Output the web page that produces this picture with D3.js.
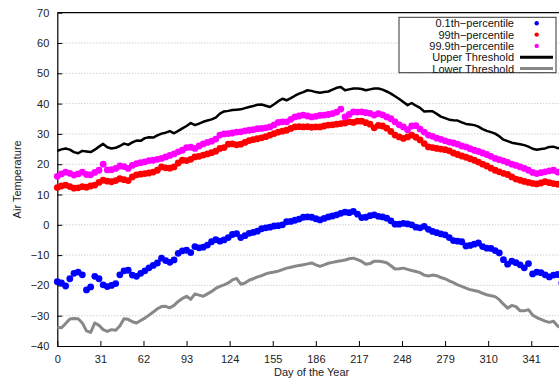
<!DOCTYPE html>
<html>
<head>
<meta charset="utf-8">
<script src="https://cdn.jsdelivr.net/npm/d3@7"></script>
<style>
  body { margin: 0; background: #fff; }
  svg { font-family: "Liberation Sans", Arial, sans-serif; }
</style>
</head>
<body>
<svg></svg>
<script>
let width = 559;
let height = 381;

// day of year, sampled every 3 days
const days = d3.range(0, 366, 3);

const xTicks = [0, 31, 62, 93, 124, 155, 186, 217, 248, 279, 310, 341];
const yTicks = [-40, -30, -20, -10, 0, 10, 20, 30, 40, 50, 60, 70];

const p001 = [
  -18.8, -19.2, -20.2, -17.8, -16.0, -15.6, -16.5, -21.5, -20.5, -17.0,
  -17.8, -19.8, -20.4, -20.0, -19.4, -16.5, -15.2, -15.0, -16.6, -17.0,
  -16.0, -15.2, -14.2, -13.4, -12.6, -11.0, -11.8, -12.4, -11.6, -9.4,
  -8.6, -8.4, -9.2, -7.2, -7.6, -7.4, -6.7, -5.6, -4.9, -5.4,
  -5.0, -4.2, -3.2, -2.9, -4.2, -3.6, -2.8, -2.5, -2.1, -1.3,
  -1.0, -0.8, -0.4, -0.3, 0.0, 1.0, 1.1, 1.5, 1.9, 2.5,
  2.6, 2.5, 2.0, 1.6, 2.1, 2.6, 2.9, 3.3, 3.8, 4.2,
  4.0, 4.4, 3.5, 2.4, 2.5, 3.0, 3.3, 2.8, 2.6, 2.2,
  1.3, 0.2, 0.2, 0.5, 0.3, 0.0, -0.8, -1.0, -0.5, -1.5,
  -2.2, -2.6, -3.0, -3.3, -4.2, -5.2, -5.4, -5.6, -7.0, -6.8,
  -6.4, -6.0, -7.2, -7.7, -7.8, -8.5, -9.3, -11.5, -13.0, -12.0,
  -12.5, -13.2, -14.2, -12.8, -16.2, -15.6, -15.8, -16.5, -17.2, -16.6,
  -16.4, -19.2
];

const p99 = [
  12.3, 12.8, 13.1, 12.6, 12.1, 12.2, 12.6, 12.4, 12.8, 13.1,
  14.0, 14.7, 14.4, 14.2, 14.6, 15.2, 14.9, 14.6, 15.8, 16.5,
  16.7, 16.9, 17.1, 17.4, 18.0, 19.1, 18.8, 18.7, 19.1, 20.4,
  21.3, 21.2, 21.6, 22.4, 22.6, 23.0, 23.4, 23.8, 24.3, 25.2,
  25.5, 26.6, 26.7, 26.4, 26.6, 27.2, 27.8, 28.1, 28.4, 28.7,
  29.1, 29.6, 30.1, 30.6, 30.9, 31.2, 31.8, 32.3, 32.4, 32.3,
  32.4, 32.2, 32.3, 32.3, 32.6, 32.9, 33.0, 33.2, 33.4, 33.6,
  34.0, 33.8, 34.2, 34.2, 33.7, 33.2, 32.0, 32.8, 32.6, 31.9,
  30.8, 29.6, 29.0, 28.5, 29.0, 29.6, 28.9, 28.0, 26.8, 25.7,
  25.5, 25.2, 25.0, 24.8, 24.4, 23.7, 23.2, 22.7, 22.3, 21.8,
  21.3, 20.7, 20.0, 19.4, 18.7, 18.0, 17.5, 17.0, 16.6, 15.8,
  15.1, 14.7, 14.3, 14.0, 13.7, 13.5, 13.8, 14.2, 13.9, 13.6,
  13.4, 13.1
];

const p999 = [
  16.0, 16.8, 17.4, 17.0, 16.4, 16.8, 17.4, 16.6, 16.5, 17.3,
  18.0, 20.0, 18.1, 18.2, 18.6, 19.4, 19.2, 18.6, 19.6, 20.2,
  20.5, 20.8, 21.2, 21.3, 21.6, 21.9, 22.4, 22.9, 23.4, 24.1,
  24.6, 25.5, 25.6, 25.2, 26.0, 26.7, 27.2, 27.6, 28.3, 29.6,
  30.0, 30.1, 30.3, 30.6, 30.7, 31.0, 31.2, 31.4, 31.7, 31.8,
  32.0, 32.3, 33.0, 33.8, 34.0, 34.0, 34.8, 35.6, 35.9, 36.2,
  35.9, 35.6, 35.8, 36.1, 36.2, 36.4, 36.7, 37.2, 38.2, 35.6,
  36.4, 37.3, 37.2, 37.3, 37.0, 36.8, 36.2, 36.7, 36.3, 35.6,
  35.0, 34.0, 33.0, 32.3, 31.4, 32.6, 32.7, 31.6, 30.6, 29.6,
  29.2, 28.6, 28.2, 27.7, 27.3, 27.0, 26.6, 26.0, 25.7, 25.1,
  24.6, 24.2, 23.7, 23.2, 22.6, 21.9, 21.5, 21.1, 20.6, 20.0,
  19.6, 19.1, 18.6, 18.0, 17.3, 16.9, 17.2, 17.5, 17.8, 18.0,
  17.4, 16.9
];

const upper = [
  24.4, 24.9, 25.2, 24.8, 24.0, 23.6, 24.4, 24.2, 24.0, 24.8,
  25.8, 26.7, 25.6, 25.2, 25.4, 26.0, 26.8, 26.4, 27.2, 27.8,
  27.7, 28.6, 28.9, 28.8, 29.5, 30.1, 30.4, 30.9, 30.2, 31.0,
  31.8, 32.6, 33.6, 32.9, 33.4, 34.0, 34.4, 34.8, 35.4, 36.7,
  37.4, 37.6, 37.9, 38.0, 38.1, 38.5, 38.9, 39.2, 39.6, 39.7,
  39.3, 38.9, 39.8, 40.8, 41.6, 41.1, 41.8, 42.6, 43.3, 43.8,
  44.4, 44.2, 43.8, 43.6, 43.8, 44.0, 44.6, 45.2, 45.5, 44.4,
  44.7, 45.0, 45.0, 44.8, 44.4, 44.7, 45.0, 45.0, 44.6, 44.0,
  43.3, 42.4, 41.5, 40.5, 39.5, 40.2, 39.3, 38.6, 37.4, 37.5,
  37.5, 36.6, 35.7, 35.2, 34.7, 34.5, 34.4, 33.8, 33.3, 33.1,
  32.9, 32.4, 31.6, 31.0, 30.6, 30.1, 29.2, 28.1, 27.6, 27.1,
  26.8, 26.6, 26.3, 25.8, 25.1, 24.8, 25.0, 25.2, 25.7, 25.8,
  25.3, 25.4
];

const lower = [
  -33.8, -34.0, -32.6, -31.1, -30.9, -31.0, -32.4, -35.0, -35.5, -32.4,
  -33.2, -34.6, -35.2, -34.6, -34.8, -33.4, -31.0, -31.2, -32.0, -32.4,
  -31.6, -30.8, -29.8, -28.8, -27.7, -27.0, -26.9, -27.4, -26.6, -25.3,
  -24.3, -23.6, -24.6, -22.8, -23.2, -23.6, -22.8, -22.0, -21.0, -20.3,
  -19.8, -19.2, -18.2, -17.7, -19.6, -19.2, -18.3, -17.8, -17.2, -16.8,
  -16.2, -15.8, -15.6, -15.3, -14.8, -14.3, -14.0, -13.7, -13.4, -13.2,
  -12.9, -12.6, -13.2, -13.7, -13.2, -12.7, -12.4, -12.1, -11.9, -11.6,
  -11.2, -11.0, -11.5, -12.1, -13.0, -12.8, -12.0, -12.0, -12.2, -12.5,
  -13.5, -14.6, -14.5, -14.3, -14.7, -15.1, -15.4, -15.8, -16.6, -16.9,
  -16.6, -16.8, -17.4, -17.8, -18.5, -19.1, -19.8, -20.3, -20.9, -21.4,
  -21.7, -22.0, -22.6, -23.1, -23.4, -23.7, -24.7, -26.2, -27.5, -26.6,
  -27.0, -28.4, -28.4, -28.0, -29.8, -30.6, -31.2, -31.8, -32.2, -31.8,
  -33.4, -34.2
];

const pointSeries = [
  { name: '0.1th\u2212percentile', color: '#0000ff', values: p001 },
  { name: '99th\u2212percentile', color: '#ff0000', values: p99 },
  { name: '99.9th\u2212percentile', color: '#ff00ff', values: p999 }
];
const lineSeries = [
  { name: 'Upper Threshold', color: '#000000', values: upper, w: 2.5 },
  { name: 'Lower Threshold', color: '#888888', values: lower, w: 3 }
];

let margin = { left: 57.3, top: 12.7, bottom: 35 };

let x = d3.scaleLinear()
          .domain([0, 366])
          .range([margin.left, margin.left + 508.7]);
let y = d3.scaleLinear()
          .domain([-40, 70])
          .range([height - margin.bottom, margin.top]);

let svg = d3.select('svg')
            .attr('width', width)
            .attr('height', height);

// grid
svg.append('g')
  .selectAll('line')
  .data(yTicks.filter(d => d > -40 && d < 70))
  .enter()
  .append('line')
    .attr('x1', x(0))
    .attr('x2', x(366))
    .attr('y1', d => y(d))
    .attr('y2', d => y(d))
    .attr('stroke', '#bbb')
    .attr('stroke-width', 1)
    .attr('stroke-dasharray', '1,2');

// axes
let xAxis = svg.append('g')
  .attr('transform', `translate(0, ${y(-40)})`)
  .call(d3.axisBottom(x).tickValues(xTicks).tickSize(-5).tickPadding(9).tickSizeOuter(0));
let yAxis = svg.append('g')
  .attr('transform', `translate(${x(0)}, 0)`)
  .call(d3.axisLeft(y).tickValues(yTicks).tickSize(-5).tickPadding(8).tickSizeOuter(0)
        .tickFormat(d => d < 0 ? '\u2212' + Math.abs(d) : d));

[xAxis, yAxis].forEach(g => {
  g.selectAll('text').style('font-size', '11px').attr('fill', '#222');
  g.selectAll('line').attr('stroke', '#000');
  g.select('.domain').attr('stroke', '#000').attr('stroke-width', 1.2);
});

// top frame
svg.append('line')
  .attr('x1', x(0)).attr('x2', x(366))
  .attr('y1', y(70)).attr('y2', y(70))
  .attr('stroke', '#000').attr('stroke-width', 1.2);

// points
pointSeries.forEach(s => {
  svg.append('g')
    .selectAll('circle')
    .data(days.map((d, i) => ({ day: d, v: s.values[i] })).filter(d => d.v != null))
    .enter()
    .append('circle')
      .attr('cx', d => x(d.day))
      .attr('cy', d => y(d.v))
      .attr('r', 3.4)
      .attr('fill', s.color);
});

// threshold lines
let line = d3.line()
             .x((d, i) => x(days[i]))
             .y(d => y(d));

lineSeries.forEach(s => {
  svg.append('path')
    .datum(s.values)
    .attr('d', line)
    .attr('fill', 'none')
    .attr('stroke', s.color)
    .attr('stroke-width', s.w)
    .attr('stroke-linejoin', 'round');
});

// axis titles
svg.append('text')
  .attr('x', x(183))
  .attr('y', 376)
  .attr('text-anchor', 'middle')
  .style('font-size', '11px')
  .attr('fill', '#222')
  .text('Day of the Year');

svg.append('text')
  .attr('transform', `translate(21, ${y(15)}) rotate(-90)`)
  .attr('text-anchor', 'middle')
  .style('font-size', '11px')
  .attr('fill', '#222')
  .text('Air Temperature');

// legend
let legend = svg.append('g');
legend.append('rect')
  .attr('x', 399)
  .attr('y', 17.3)
  .attr('width', 157)
  .attr('height', 55.4)
  .attr('fill', '#fff')
  .attr('stroke', '#333')
  .attr('stroke-width', 1);

let items = pointSeries.concat(lineSeries);
items.forEach((s, i) => {
  let cy = 23.3 + i * 11.3;
  legend.append('text')
    .attr('x', 514)
    .attr('y', cy + 4)
    .attr('text-anchor', 'end')
    .style('font-size', '11px')
    .attr('fill', '#111')
    .text(s.name);
  if (i < 3) {
    legend.append('circle')
      .attr('cx', 536.7)
      .attr('cy', cy)
      .attr('r', 2.2)
      .attr('fill', s.color);
  } else {
    legend.append('line')
      .attr('x1', 520).attr('x2', 553)
      .attr('y1', cy).attr('y2', cy)
      .attr('stroke', s.color)
      .attr('stroke-width', 3);
  }
});
</script>
</body>
</html>
